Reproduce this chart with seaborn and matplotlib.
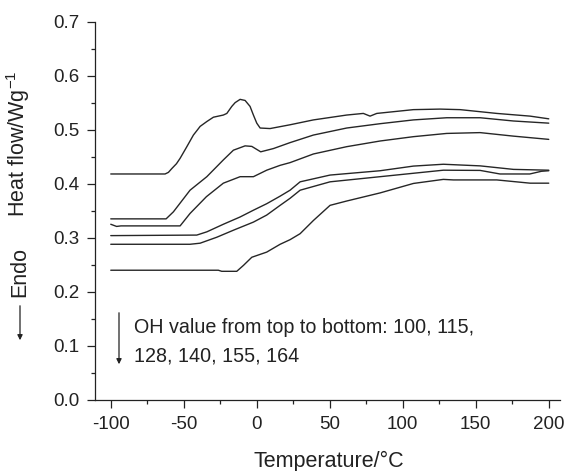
import numpy as np
import pandas as pd
import matplotlib
matplotlib.use("Agg")
import matplotlib.pyplot as plt
import seaborn as sns
from matplotlib.ticker import MultipleLocator, FormatStrFormatter

# ---- data ----
oh_values = [100, 115, 128, 140, 155, 164]

x1 = [-100, -62.8, -60.5, -58.2, -55, -52.5, -48, -43.4, -40.5, -38.8, -34.2, -29.7, -22.9, -20.5,
      -17.1, -14.8, -11.4, -8, -4.6, -2.3, 0, 2.3, 9.1, 22.8, 38.8, 61.6, 73, 77.6, 82.2, 107.3,
      125.5, 139.3, 164.4, 187.2, 200]
y1 = [0.418, 0.418, 0.421, 0.428, 0.437, 0.447, 0.468, 0.490, 0.500, 0.506, 0.515, 0.523, 0.527,
      0.530, 0.543, 0.550, 0.556, 0.554, 0.543, 0.527, 0.512, 0.503, 0.502, 0.509, 0.518, 0.527,
      0.530, 0.525, 0.530, 0.537, 0.538, 0.537, 0.530, 0.525, 0.520]

x2 = [-100, -62.1, -57.1, -45.7, -34.2, -22.9, -16, -8, -3.4, 2.7, 11.4, 22.8, 38.8, 61.6, 84.5,
      107.3, 130.1, 153, 175.8, 200]
y2 = [0.335, 0.335, 0.348, 0.388, 0.413, 0.444, 0.462, 0.470, 0.469, 0.459, 0.465, 0.476, 0.490,
      0.503, 0.511, 0.518, 0.522, 0.522, 0.516, 0.512]

x3 = [-100, -96, -93, -52.5, -45.7, -34.5, -22.9, -11.4, -2.3, 6.8, 16, 22.8, 38.8, 61.6, 84.5,
      107.3, 130.1, 153, 175.8, 200]
y3 = [0.325, 0.321, 0.322, 0.322, 0.345, 0.376, 0.401, 0.413, 0.413, 0.425, 0.434, 0.439, 0.455,
      0.4685, 0.479, 0.487, 0.493, 0.4945, 0.488, 0.482]

x4 = [-100, -41.1, -34.2, -22.9, -11.4, -2.3, 6.8, 16, 22.8, 29.7, 50.2, 84.5, 107.3, 127.8, 153,
      175.8, 200]
y4 = [0.304, 0.305, 0.311, 0.325, 0.3385, 0.351, 0.363, 0.377, 0.388, 0.4035, 0.416, 0.424, 0.4326,
      0.436, 0.433, 0.4265, 0.425]

x5 = [-100, -45.7, -38.8, -27.4, -16, -2.3, 6.8, 16, 22.8, 29.7, 50.2, 84.5, 127.8, 153, 166.6,
      187, 195, 200]
y5 = [0.288, 0.288, 0.290, 0.301, 0.314, 0.329, 0.342, 0.360, 0.373, 0.388, 0.4035, 0.413, 0.425,
      0.4246, 0.418, 0.418, 0.423, 0.424]

x6 = [-100, -26.3, -24, -13.7, -9.1, -3.4, 6.8, 16, 22.8, 29.7, 38.8, 50.2, 61.6, 84.5, 107.3,
      127.8, 134.7, 164.4, 187.2, 200]
y6 = [0.240, 0.240, 0.238, 0.238, 0.249, 0.264, 0.2735, 0.288, 0.2965, 0.3076, 0.332, 0.360, 0.368,
      0.383, 0.4005, 0.408, 0.407, 0.407, 0.401, 0.401]

xs = [x1, x2, x3, x4, x5, x6]
ys = [y1, y2, y3, y4, y5, y6]

x_ticks = [-100, -50, 0, 50, 100, 150, 200]
y_ticks = [0.0, 0.1, 0.2, 0.3, 0.4, 0.5, 0.6, 0.7]

frames = []
for oh, xv, yv in zip(oh_values, xs, ys):
    frames.append(pd.DataFrame({"T": xv, "HF": yv, "OH": str(oh)}))
df = pd.concat(frames, ignore_index=True)

# ---- style ----
sns.set_style("ticks")
plt.rcParams["font.family"] = ["Liberation Sans", "DejaVu Sans"]
plt.rcParams["axes.unicode_minus"] = False
plt.rcParams["mathtext.fontset"] = "custom"
plt.rcParams["mathtext.rm"] = "Liberation Sans"
plt.rcParams["mathtext.it"] = "Liberation Sans:italic"

W, H = 564, 471
fig = plt.figure(figsize=(W / 100, H / 100), dpi=100)
ax = fig.add_axes([95 / W, 71 / H, 465 / W, 378.5 / H])

line_col = "#262626"
sns.lineplot(data=df, x="T", y="HF", hue="OH", units="OH", estimator=None, sort=False,
             palette=[line_col] * len(oh_values), legend=False, linewidth=1.0, ax=ax)

ax.set_xlim(-110.8, 207.7)
ax.set_ylim(0.0, 0.7)
ax.set_xticks(x_ticks)
ax.set_xticklabels([str(v) for v in x_ticks])
ax.set_yticks(y_ticks)
ax.yaxis.set_major_formatter(FormatStrFormatter("%.1f"))
ax.xaxis.set_minor_locator(MultipleLocator(25))
ax.yaxis.set_minor_locator(MultipleLocator(0.05))
ax.tick_params(axis="both", which="major", direction="out", length=5.5, width=0.9,
               labelsize=13.5, colors="#222222", pad=6)
ax.tick_params(axis="both", which="minor", direction="out", length=3, width=0.9, colors="#222222")
ax.set_xlabel("")
ax.set_ylabel("")
sns.despine(ax=ax)
for s in ["left", "bottom"]:
    ax.spines[s].set_linewidth(0.9)
    ax.spines[s].set_color("#222222")

# axis titles
fig.text(329 / W, 1 - 461 / H, "Temperature/°C", ha="center", va="center", fontsize=15.5,
         color="#222222")
fig.text(18.5 / W, 1 - 144 / H, "Heat flow/Wg$^{-1}$", rotation=90, ha="center", va="center",
         fontsize=15.5, color="#222222")
fig.text(19.5 / W, 1 - 272 / H, "Endo", rotation=90, ha="center", va="center", fontsize=15.5,
         color="#222222")
fig.add_artist(matplotlib.patches.FancyArrowPatch((20 / W, 1 - 303 / H), (20 / W, 1 - 343 / H),
               transform=fig.transFigure, arrowstyle="-|>,head_length=3,head_width=1.5",
               mutation_scale=1, lw=0.9, color="#222222"))

# annotation inside the plot
fig.text(134 / W, 1 - 333.3 / H, "OH value from top to bottom: 100, 115,", ha="left",
         va="baseline", fontsize=14.2, color="#222222")
fig.text(134 / W, 1 - 361.7 / H, "128, 140, 155, 164", ha="left", va="baseline", fontsize=14.2,
         color="#222222")
fig.add_artist(matplotlib.patches.FancyArrowPatch((119 / W, 1 - 310 / H), (119 / W, 1 - 367 / H),
               transform=fig.transFigure, arrowstyle="-|>,head_length=3,head_width=1.5",
               mutation_scale=1, lw=0.9, color="#222222"))

fig.savefig("out.png", dpi=100)
